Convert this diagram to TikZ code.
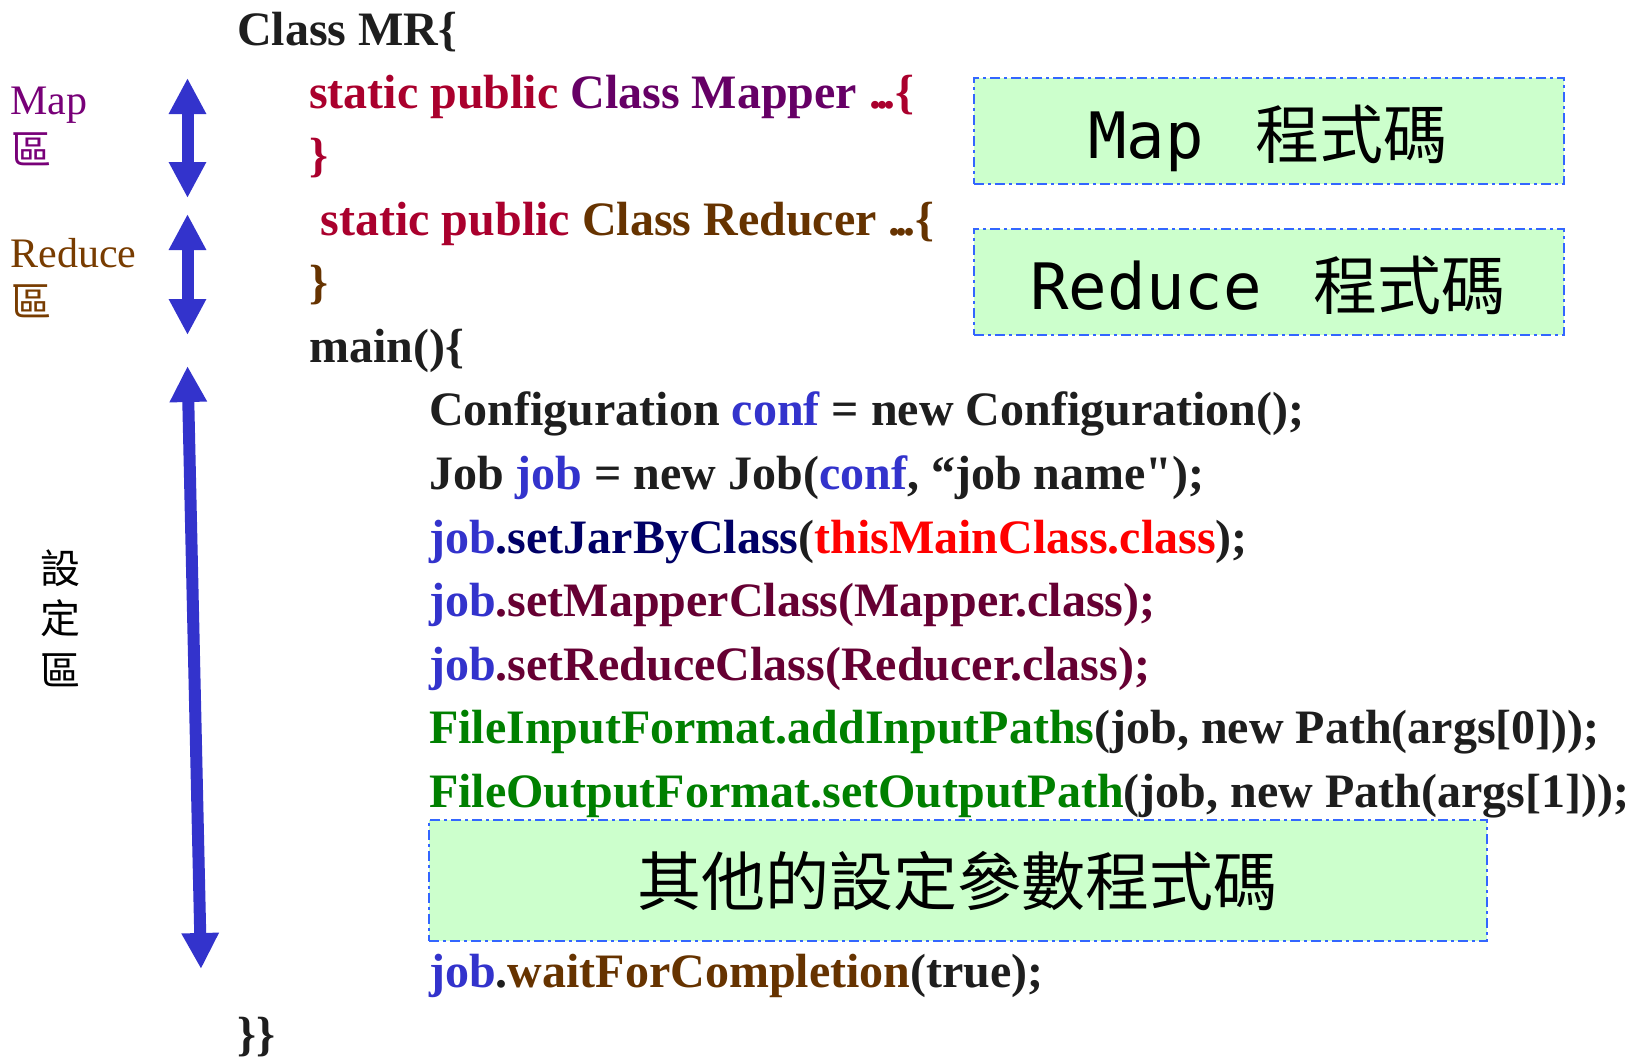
\documentclass[tikz,border=0pt]{standalone}
\usepackage{fontspec}
\setmainfont{Liberation Serif}
\newfontfamily\cjk{Noto Sans CJK TC}
\newfontfamily\mono{DejaVu Sans Mono}
\usetikzlibrary{arrows.meta}

\definecolor{codeblack}{RGB}{30,30,30}
\definecolor{kwred}{RGB}{170,0,45}
\definecolor{mapperpurple}{RGB}{102,0,102}
\definecolor{reducerbrown}{RGB}{102,51,0}
\definecolor{varblue}{RGB}{51,51,204}
\definecolor{callnavy}{RGB}{0,0,102}
\definecolor{classred}{RGB}{255,0,0}
\definecolor{callmaroon}{RGB}{102,0,51}
\definecolor{fmtgreen}{RGB}{0,128,0}
\definecolor{lblpurple}{RGB}{120,0,120}
\definecolor{lblbrown}{RGB}{120,60,0}
\definecolor{boxgreen}{RGB}{204,255,204}
\definecolor{boxblue}{RGB}{51,102,255}
\definecolor{arrowblue}{RGB}{51,51,204}

\newcommand\codefont{\fontsize{48}{58}\selectfont\bfseries}
\newcommand\tightdots{.\kern-.1em.\kern-.1em.}

\tikzset{
  codeline/.style={anchor=base west, inner sep=0pt, font=\codefont, text=codeblack},
  sidelabel/.style={anchor=base west, inner sep=0pt, font=\fontsize{42}{50}\selectfont},
  sidecjk/.style={inner sep=0pt, font=\cjk\fontsize{40}{48}\selectfont},
  greenbox/.style={draw=boxblue, fill=boxgreen, line width=2pt,
    dash pattern=on 10pt off 4pt on 3pt off 4pt, inner sep=0pt},
  boxtext/.style={inner sep=0pt, font=\fontsize{64}{74}\selectfont},
  bigarrow/.style={draw=arrowblue, line width=12pt,
    {Triangle[length=36pt,width=35pt]}-{Triangle[length=36pt,width=35pt]}},
}

\begin{document}
\begin{tikzpicture}[x=1pt, y=-1pt]
\useasboundingbox (0,0) rectangle (1633,1061);
\fill[white] (0,0) rectangle (1633,1061);

% side labels
\node[sidelabel, text=lblpurple] (maplbl) at (10.4,114.6) {Map};
\node[sidecjk, text=lblpurple] (mapqu) at (31,149) {區};
\node[sidelabel, text=lblbrown] (redlbl) at (10.4,267.6) {Reduce};
\node[sidecjk, text=lblbrown] (redqu) at (31,301) {區};
\node[sidecjk, text=black] (setA) at (60.6,568.5) {設};
\node[sidecjk, text=black] (setB) at (60.6,618.5) {定};
\node[sidecjk, text=black] (setC) at (60.6,670) {區};

% range arrows
\coordinate (maptop) at (187.5,78);
\coordinate (mapbot) at (187.5,198);
\coordinate (redtop) at (187.5,214);
\coordinate (redbot) at (187.5,335);
\coordinate (settop) at (187.5,366);
\coordinate (setbot) at (201,969);
\draw[bigarrow] (maptop) -- (mapbot);
\draw[bigarrow] (redtop) -- (redbot);
\draw[bigarrow] (settop) -- (setbot);

% highlighted placeholder boxes
\node[greenbox, minimum width=590pt, minimum height=106pt] (mapbox) at (1269,131.2) {};
\node[boxtext, anchor=base] (maptext) at (1268,158.5) {{\mono Map}\hspace{52pt}{\cjk 程式碼}};
\node[greenbox, minimum width=590pt, minimum height=106pt] (redbox) at (1269,282.2) {};
\node[boxtext, anchor=base] (redtext) at (1268,309) {{\mono Reduce}\hspace{52pt}{\cjk 程式碼}};
\node[greenbox, minimum width=1058pt, minimum height=121pt] (otherbox) at (958,880) {};
\node[boxtext, anchor=base] (othertext) at (957,905) {\cjk 其他的設定參數程式碼};

% source code
\node[codeline] (l1) at (237,45) {Class MR\{};
\node[codeline] (l2) at (309,108.3) {\textcolor{kwred}{static public} \textcolor{mapperpurple}{Class Mapper} \textcolor{kwred}{\tightdots\{}};
\node[codeline, text=kwred] (l3) at (309,171.8) {\}};
\node[codeline] (l4) at (320.5,235.4) {\textcolor{kwred}{static public} \textcolor{reducerbrown}{Class Reducer \tightdots\{}};
\node[codeline, text=reducerbrown] (l5) at (309,298.9) {\}};
\node[codeline] (l6) at (309,362.4) {main()\{};
\node[codeline] (l7) at (429,425.9) {Configuration \textcolor{varblue}{conf} = new Configuration();};
\node[codeline] (l8) at (429,489.5) {Job \textcolor{varblue}{job} = new Job(\textcolor{varblue}{conf}, “job name\textquotedbl);};
\node[codeline] (l9) at (429,553) {\textcolor{varblue}{job}\textcolor{callnavy}{.setJarByClass}(\textcolor{classred}{thisMainClass.class});};
\node[codeline] (l10) at (429,616.5) {\textcolor{varblue}{job}\textcolor{callmaroon}{.setMapperClass(Mapper.class);}};
\node[codeline] (l11) at (429,680) {\textcolor{varblue}{job}\textcolor{callmaroon}{.setReduceClass(Reducer.class);}};
\node[codeline] (l12) at (429,743.6) {\textcolor{fmtgreen}{FileInputFormat.addInputPaths}(job, new Path(args[0]));};
\node[codeline] (l13) at (429,807.1) {\textcolor{fmtgreen}{FileOutputFormat.setOutputPath}(job, new Path(args[1]));};
\node[codeline] (l14) at (429,987.3) {\textcolor{varblue}{job}.\textcolor{reducerbrown}{waitForCompletion}(true);};
\node[codeline] (l15) at (237,1050.8) {\}\}};
\end{tikzpicture}
\end{document}
